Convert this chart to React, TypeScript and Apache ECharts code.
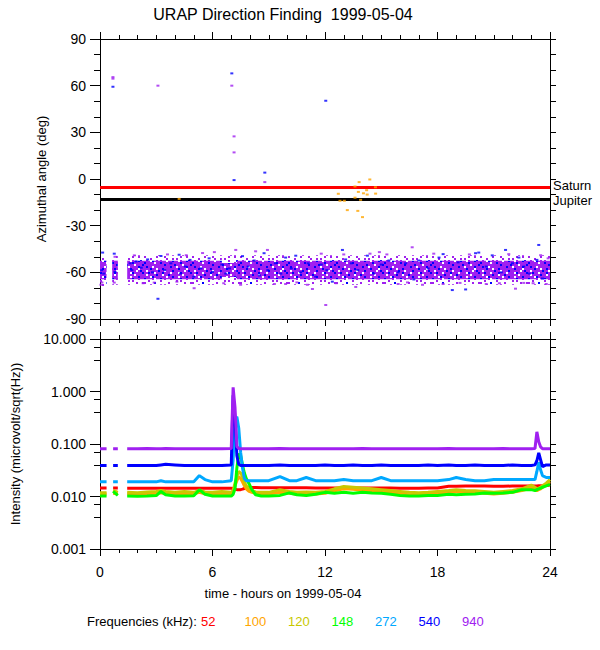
import React, { useEffect, useRef } from "react";
import * as echarts from "echarts";

// ---------- Bottom panel: intensity per frequency vs. hour ----------
const hours = [
  0, 0.35, 0.5, 0.7, 0.95, 1.2, 1.45, 2, 2.5, 3,
  3.25, 3.5, 4, 4.5, 5, 5.3, 5.6, 6, 6.5, 7.0,
  7.1, 7.2, 7.3, 7.4, 7.5, 7.6, 7.7, 7.8, 7.95, 8.1,
  8.3, 8.6, 9, 9.6, 10.1, 10.5, 11, 11.5, 12, 12.5,
  13, 13.5, 14, 14.5, 15, 15.5, 16, 16.5, 17, 17.5,
  18, 18.6, 19, 19.5, 20, 20.5, 21, 21.5, 22, 22.5,
  23, 23.2, 23.3, 23.4, 23.5, 23.6, 23.8, 24,
];

const int940 = [
  0.081, 0.081, null, 0.081, 0.081, null, 0.081, 0.081, 0.082, 0.081,
  0.081, 0.082, 0.081, 0.081, 0.081, 0.081, 0.081, 0.081, 0.081, 0.082,
  1.2, 0.5, 0.09, 0.082, 0.081, 0.081, 0.081, 0.081, 0.081, 0.081,
  0.081, 0.081, 0.081, 0.082, 0.081, 0.081, 0.081, 0.081, 0.081, 0.081,
  0.081, 0.081, 0.082, 0.081, 0.081, 0.081, 0.081, 0.081, 0.081, 0.081,
  0.081, 0.082, 0.081, 0.081, 0.081, 0.081, 0.081, 0.082, 0.081, 0.081,
  0.081, 0.082, 0.17, 0.11, 0.088, 0.081, 0.081, 0.081,
];

const int540 = [
  0.039, 0.039, null, 0.039, 0.039, null, 0.039, 0.039, 0.039, 0.039,
  0.040, 0.041, 0.040, 0.039, 0.039, 0.039, 0.039, 0.039, 0.039, 0.040,
  0.85, 0.3, 0.06, 0.041, 0.039, 0.039, 0.039, 0.039, 0.039, 0.039,
  0.039, 0.039, 0.039, 0.040, 0.039, 0.039, 0.039, 0.039, 0.040, 0.039,
  0.039, 0.040, 0.039, 0.039, 0.040, 0.039, 0.039, 0.039, 0.039, 0.040,
  0.039, 0.040, 0.039, 0.039, 0.040, 0.039, 0.039, 0.039, 0.040, 0.039,
  0.039, 0.040, 0.048, 0.068, 0.05, 0.037, 0.040, 0.040,
];

const int272 = [
  0.019, 0.019, null, 0.019, 0.019, null, 0.019, 0.019, 0.019, 0.019,
  0.020, 0.019, 0.019, 0.019, 0.019, 0.025, 0.021, 0.019, 0.019, 0.020,
  0.05, 0.30, 0.33, 0.20, 0.07, 0.035, 0.022, 0.020, 0.020, 0.020,
  0.020, 0.020, 0.020, 0.024, 0.020, 0.020, 0.023, 0.020, 0.020, 0.020,
  0.021, 0.020, 0.020, 0.020, 0.023, 0.020, 0.020, 0.020, 0.020, 0.020,
  0.020, 0.021, 0.023, 0.021, 0.020, 0.020, 0.021, 0.021, 0.021, 0.021,
  0.021, 0.021, 0.03, 0.045, 0.032, 0.025, 0.023, 0.023,
];

const int148 = [
  0.0102, 0.0102, null, 0.0125, 0.0105, null, 0.0102, 0.0101, 0.0102, 0.0104,
  0.0125, 0.0108, 0.0102, 0.0102, 0.0103, 0.0135, 0.011, 0.0102, 0.0102, 0.0102,
  0.011, 0.014, 0.035, 0.065, 0.06, 0.04, 0.028, 0.022, 0.0175, 0.0135,
  0.0108, 0.0102, 0.0102, 0.0105, 0.0117, 0.0108, 0.0105, 0.011, 0.012, 0.0115,
  0.012, 0.0115, 0.012, 0.0117, 0.0115, 0.011, 0.0105, 0.0102, 0.0102, 0.0105,
  0.0105, 0.011, 0.0108, 0.011, 0.0112, 0.0117, 0.0115, 0.0117, 0.012, 0.0135,
  0.0135, 0.013, 0.0135, 0.014, 0.0145, 0.015, 0.016, 0.017,
];

const int120 = [
  0.0118, 0.0118, null, 0.013, 0.012, null, 0.012, 0.0118, 0.0122, 0.0125,
  0.013, 0.0125, 0.012, 0.0125, 0.012, 0.013, 0.0122, 0.012, 0.0125, 0.012,
  0.013, 0.018, 0.024, 0.030, 0.028, 0.024, 0.019, 0.016, 0.014, 0.013,
  0.0122, 0.012, 0.012, 0.0135, 0.0125, 0.012, 0.0122, 0.012, 0.0125, 0.014,
  0.0155, 0.015, 0.0145, 0.014, 0.0135, 0.013, 0.0125, 0.012, 0.0118, 0.012,
  0.0125, 0.013, 0.0135, 0.013, 0.0128, 0.0125, 0.012, 0.0125, 0.013, 0.014,
  0.0165, 0.015, 0.014, 0.0145, 0.015, 0.016, 0.018, 0.021,
];

const int100 = [
  0.0112, 0.0112, null, 0.0115, 0.0112, null, 0.0112, 0.0111, 0.0113, 0.0115,
  0.0118, 0.0115, 0.0112, 0.0113, 0.0112, 0.012, 0.0113, 0.0112, 0.0113, 0.0112,
  0.012, 0.016, 0.020, 0.024, 0.022, 0.019, 0.016, 0.014, 0.0125, 0.012,
  0.0115, 0.0112, 0.0112, 0.012, 0.0115, 0.0112, 0.0113, 0.0112, 0.0115, 0.0128,
  0.014, 0.0138, 0.0132, 0.0128, 0.0125, 0.012, 0.0112, 0.0108, 0.0108, 0.011,
  0.0115, 0.012, 0.0125, 0.012, 0.0118, 0.0115, 0.0112, 0.0115, 0.012, 0.013,
  0.0145, 0.0135, 0.013, 0.0135, 0.014, 0.015, 0.017, 0.019,
];

const int52 = [
  0.0145, 0.0145, null, 0.0145, 0.0145, null, 0.0143, 0.0143, 0.0143, 0.0143,
  0.0143, 0.0143, 0.0143, 0.0143, 0.0143, 0.0143, 0.0143, 0.0143, 0.0143, 0.0143,
  0.0142, 0.0138, 0.0135, 0.0135, 0.0135, 0.0138, 0.0142, 0.0146, 0.0148, 0.0148,
  0.0148, 0.0147, 0.0146, 0.0146, 0.0146, 0.0146, 0.0146, 0.0145, 0.0145, 0.0145,
  0.0145, 0.0145, 0.0145, 0.0145, 0.0145, 0.0145, 0.0144, 0.0144, 0.0144, 0.0145,
  0.0145, 0.0157, 0.0157, 0.0158, 0.0158, 0.0158, 0.0157, 0.0157, 0.0158, 0.0158,
  0.0158, 0.0158, 0.0158, 0.016, 0.016, 0.016, 0.0162, 0.0165,
];

const freqLabels = ["52", "100", "120", "148", "272", "540", "940"];
const freqColors = ["#ff0000", "#ffa500", "#c8c800", "#00ff00", "#00a8ff", "#0000ff", "#a020f0"];
const intensities = [int52, int100, int120, int148, int272, int540, int940];

// ---------- Top panel: direction finding ----------
// dense 940/540 kHz band: [start h, end h, upper deg, lower deg]
const coreStart = [0, 0.65, 1.45, 6.5, 7.3];
const coreEnd = [0.35, 0.95, 6.5, 7.3, 24];
const coreTop = [-52.5, -52.5, -52.5, -54, -52.5];
const coreBottom = [-64.5, -64.5, -64.5, -63, -64.5];
const haloTop = [-49, -49, -49, -49, -49];
const haloBottom = [-69, -68, -68, -68, -68];

const df100: number[][] = [
  [4.22, -12.8], [12.71, -9.5], [12.8, -14], [13.03, -14], [13.19, -20], [13.6, -12],
  [13.6, -4.8], [13.78, -8.3], [13.75, -20.5], [13.82, -2], [13.9, -13.4], [14.0, -24.5],
  [14.05, -9.2], [14.22, -7.2], [14.25, -10], [14.39, -0.3], [14.69, -5.3], [14.7, -9.4],
];

const df940: number[][] = [
  [0.69, 64.5], [0.69, 65.5], [3.09, 60], [7.03, 60], [7.15, 27.4], [7.15, 17.1], [8.79, -2], [12.04, -81],
  [0.05, -68], [0.1, -66.5], [0.76, -66.6], [0.8, -50], [1.83, -49.1], [2.3, -67], [2.89, -66.6],
  [3.6, -48.5], [4.1, -66], [4.6, -49], [5.02, -70.2], [5.47, -47.6], [6.1, -47], [6.6, -67],
  [7.24, -45.6], [7.5, -68], [8.3, -46.5], [8.93, -45.6], [9.3, -67.5], [9.9, -67.5], [10.5, -66.5],
  [11.06, -68], [11.33, -70.7], [11.8, -48], [12.6, -67], [13.0, -48.5], [13.64, -69.4], [14.4, -48],
  [14.9, -47], [15.3, -48.5], [15.9, -67.5], [16.4, -66.5], [16.65, -43.9], [17.2, -68], [17.8, -48],
  [18.3, -67.5], [19.2, -66.8], [19.7, -48.5], [20.6, -67.5], [21.3, -67], [21.8, -48.3], [22.16, -70.5],
  [22.6, -66.8], [23.1, -67], [23.5, -49], [23.8, -67.5], [23.9, -51],
];

const df540: number[][] = [
  [0.69, 59.3], [7.03, 67.9], [7.15, -0.7], [8.79, 4.1], [12.04, 50.3], [3.09, -77], [23.4, -42.4],
  [0.14, -47.3], [0.09, -58.6], [0.2, -60.8], [0.76, -48], [0.8, -59.7], [1.61, -54.2], [1.7, -58.6],
  [1.92, -53], [2.2, -57], [2.54, -51.7], [2.8, -60], [3.25, -49.5], [3.45, -58.6], [3.78, -54.2],
  [4.22, -48.7], [4.3, -60.8], [4.55, -56.3], [4.8, -52], [5.0, -62.8], [5.38, -57.5], [5.82, -51],
  [6.0, -59.7], [6.5, -55], [6.71, -60.8], [6.9, -57.5], [7.6, -49.6], [7.9, -56.3], [8.22, -52.4],
  [8.5, -62], [8.75, -47.7], [8.95, -58.6], [9.35, -54.2], [9.64, -60.8], [9.9, -50.5], [10.2, -57.5],
  [10.44, -49.3], [10.7, -60], [11.1, -54.2], [11.5, -62.8], [11.8, -55], [12.1, -58.6], [12.39, -66],
  [12.93, -45.6], [13.1, -51.7], [13.4, -54.2], [13.75, -58.6], [14.26, -49.3], [14.6, -60.8], [15.0, -55],
  [15.41, -52.4], [15.9, -60], [16.3, -54.2], [16.74, -64.6], [17.0, -52.4], [17.5, -57.5], [18.08, -50.5],
  [18.3, -48.3], [18.79, -71.4], [19.1, -53.6], [19.5, -71], [20.03, -47.7], [20.2, -47.3], [20.6, -56.3],
  [20.92, -49.1], [21.4, -60], [21.63, -45.6], [22.0, -54.2], [22.34, -50.5], [22.6, -56.3], [22.9, -60.8],
  [23.3, -52], [23.6, -64],
];

const planetNames = ["Saturn", "Jupiter"];
const planetAngles = [-5, -13];
const planetColors = ["#ff0000", "#000000"];

const hourTicks = { min: 0, max: 24, interval: 6 };
const angleTicks = { min: -90, max: 90, interval: 30 };
const intensityRange = { min: 0.001, max: 10 };

// speckle textures for the dense band (styling only): P purple, B blue, . empty
const coreTexture = [
  "PPBPP.PPPBPPP.PPP.BPPPPB",
  "P.PPPPBPP.PPBPPPPPP.PPPP",
  "PPP.BPPPPPP.PPBPP.PPPBPP",
  "BPPPP.PPBPPPP.PPPPBPP.PP",
  "PP.PPPPP.PBPPPPBPPP.PPPB",
  "PBPP.PPPPPPP.BPP.PPPPBPP",
  "PPPBPP.PPBPPPPPP.BPPP.PP",
  "P.PPPPPBPP.PPPBPPPPP.PBP",
];
const haloTexture = [
  "P.....P...P.......P..P..",
  "...P.......P..P.P.......",
  ".P....P.P.........P...B.",
  "....P.....P..P.......P..",
  "..P.....P.......P.P.....",
  "P....B......P.......P..P",
  "...P....P.P.....P.......",
  ".......P......P....P.P..",
];

const FONT = "'Liberation Sans', Arial, Helvetica, sans-serif";
const BLACK = "#000";

function makePattern(rows: string[], cw: number, ch: number, palette: Record<string, string>) {
  const c = document.createElement("canvas");
  c.width = rows[0].length * cw;
  c.height = rows.length * ch;
  const ctx = c.getContext("2d") as CanvasRenderingContext2D;
  rows.forEach((r, y) => {
    for (let x = 0; x < r.length; x++) {
      const col = palette[r[x]];
      if (col) {
        ctx.fillStyle = col;
        ctx.fillRect(x * cw, y * ch, cw, ch);
      }
    }
  });
  return { image: c, repeat: "repeat" };
}

function xAxisDef(gridIndex: number, position: string, showLabels: boolean) {
  return {
    type: "value",
    gridIndex,
    position,
    ...hourTicks,
    axisLine: { onZero: false, lineStyle: { color: BLACK, width: 1 } },
    axisTick: { length: 7, lineStyle: { color: BLACK } },
    minorTick: { show: true, splitNumber: 6, length: 4, lineStyle: { color: BLACK } },
    splitLine: { show: false },
    minorSplitLine: { show: false },
    axisLabel: { show: showLabels, color: BLACK, fontFamily: FONT, fontSize: 14, margin: 16 },
  };
}

function bandRender(fill: any) {
  return (params: any, api: any) => {
    const a = api.coord([api.value(0), api.value(2)]);
    const b = api.coord([api.value(1), api.value(3)]);
    return {
      type: "rect",
      shape: { x: a[0], y: a[1], width: b[0] - a[0], height: b[1] - a[1] },
      style: { fill },
    };
  };
}

export default function App() {
  const ref = useRef<HTMLDivElement>(null);
  useEffect(() => {
    const chart = echarts.init(ref.current as HTMLDivElement, null, { renderer: "svg" });
    const palette = { P: freqColors[6], B: freqColors[5] };
    const corePattern = makePattern(coreTexture, 2, 2, palette);
    const haloPattern = makePattern(haloTexture, 2, 2, palette);

    const lineSeries = intensities.map((vals, k) => ({
      name: freqLabels[k],
      type: "line",
      xAxisIndex: 2,
      yAxisIndex: 2,
      showSymbol: false,
      connectNulls: false,
      lineStyle: { color: freqColors[k], width: 3 },
      itemStyle: { color: freqColors[k] },
      z: 3 + k,
      data: hours.map((h, i) => [h, vals[i] === null ? "-" : vals[i]]),
    }));

    const option: any = {
      animation: false,
      backgroundColor: "#fff",
      grid: [
        { left: 100, top: 39, width: 450, height: 280 },
        { left: 100, top: 339, width: 450, height: 210 },
      ],
      xAxis: [
        xAxisDef(0, "bottom", false),
        xAxisDef(0, "top", false),
        xAxisDef(1, "bottom", true),
        xAxisDef(1, "top", false),
      ],
      yAxis: [
        {
          type: "value",
          gridIndex: 0,
          position: "left",
          ...angleTicks,
          name: "Azimuthal angle (deg)",
          nameLocation: "middle",
          nameGap: 52,
          nameTextStyle: { color: BLACK, fontFamily: FONT, fontSize: 13 },
          axisLine: { onZero: false, lineStyle: { color: BLACK } },
          axisTick: { length: 10, lineStyle: { color: BLACK } },
          minorTick: { show: true, splitNumber: 3, length: 6, lineStyle: { color: BLACK } },
          splitLine: { show: false },
          axisLabel: { color: BLACK, fontFamily: FONT, fontSize: 14, margin: 14 },
        },
        {
          type: "value",
          gridIndex: 0,
          position: "right",
          ...angleTicks,
          axisLine: { onZero: false, lineStyle: { color: BLACK } },
          axisTick: { length: 6, lineStyle: { color: BLACK } },
          minorTick: { show: true, splitNumber: 3, length: 6, lineStyle: { color: BLACK } },
          splitLine: { show: false },
          axisLabel: { show: false },
        },
        {
          type: "log",
          logBase: 10,
          gridIndex: 1,
          position: "left",
          ...intensityRange,
          name: "Intensity (microvolt/sqrt(Hz))",
          nameLocation: "middle",
          nameGap: 78,
          nameTextStyle: { color: BLACK, fontFamily: FONT, fontSize: 13 },
          axisLine: { onZero: false, lineStyle: { color: BLACK } },
          axisTick: { length: 10, lineStyle: { color: BLACK } },
          minorTick: { show: true, splitNumber: 3, length: 6, lineStyle: { color: BLACK } },
          splitLine: { show: false },
          axisLabel: {
            color: BLACK,
            fontFamily: FONT,
            fontSize: 14,
            margin: 14,
            formatter: (v: number) => Number(v).toFixed(3),
          },
        },
        {
          type: "log",
          logBase: 10,
          gridIndex: 1,
          position: "right",
          ...intensityRange,
          axisLine: { onZero: false, lineStyle: { color: BLACK } },
          axisTick: { length: 6, lineStyle: { color: BLACK } },
          minorTick: { show: true, splitNumber: 3, length: 6, lineStyle: { color: BLACK } },
          splitLine: { show: false },
          axisLabel: { show: false },
        },
      ],
      series: [
        {
          type: "custom",
          name: "halo",
          xAxisIndex: 0,
          yAxisIndex: 0,
          silent: true,
          z: 1,
          encode: { x: [0, 1], y: [2, 3] },
          renderItem: bandRender(haloPattern),
          data: coreStart.map((s, i) => [s, coreEnd[i], haloTop[i], haloBottom[i]]),
        },
        {
          type: "custom",
          name: "core",
          xAxisIndex: 0,
          yAxisIndex: 0,
          silent: true,
          z: 2,
          encode: { x: [0, 1], y: [2, 3] },
          renderItem: bandRender(corePattern),
          data: coreStart.map((s, i) => [s, coreEnd[i], coreTop[i], coreBottom[i]]),
        },
        {
          type: "scatter",
          name: "planets",
          xAxisIndex: 0,
          yAxisIndex: 0,
          data: [],
          z: 3,
          markLine: {
            silent: true,
            symbol: "none",
            animation: false,
            data: planetNames.map((n, i) => ({
              name: n,
              yAxis: planetAngles[i],
              lineStyle: { color: planetColors[i], width: 3, type: "solid" },
              label: {
                show: true,
                position: "end",
                distance: 3,
                formatter: n,
                color: BLACK,
                fontFamily: FONT,
                fontSize: 13,
                lineHeight: 12,
                offset: [0, i === 0 ? -1 : 1],
              },
            })),
          },
        },
        {
          type: "scatter",
          name: "940 df",
          xAxisIndex: 0,
          yAxisIndex: 0,
          symbol: "rect",
          symbolSize: [3, 2],
          itemStyle: { color: freqColors[6] },
          z: 4,
          data: df940,
        },
        {
          type: "scatter",
          name: "540 df",
          xAxisIndex: 0,
          yAxisIndex: 0,
          symbol: "rect",
          symbolSize: [3, 2],
          itemStyle: { color: freqColors[5] },
          z: 5,
          data: df540,
        },
        {
          type: "scatter",
          name: "100 df",
          xAxisIndex: 0,
          yAxisIndex: 0,
          symbol: "rect",
          symbolSize: [3, 2],
          itemStyle: { color: freqColors[1] },
          z: 6,
          data: df100,
        },
        ...lineSeries,
      ],
      graphic: [
        {
          type: "text",
          x: 283,
          y: 14,
          style: {
            text: "URAP Direction Finding  1999-05-04",
            fill: BLACK,
            font: `16px ${FONT}`,
            textAlign: "center",
            textVerticalAlign: "middle",
          },
        },
        {
          type: "text",
          x: 283,
          y: 593,
          style: {
            text: "time - hours on 1999-05-04",
            fill: BLACK,
            font: `13px ${FONT}`,
            textAlign: "center",
            textVerticalAlign: "middle",
          },
        },
        {
          type: "text",
          x: 87,
          y: 621,
          style: {
            text: "Frequencies (kHz):",
            fill: BLACK,
            font: `13px ${FONT}`,
            textAlign: "left",
            textVerticalAlign: "middle",
          },
        },
        ...freqLabels.map((f, i) => ({
          type: "text",
          x: 201 + i * 43.5,
          y: 621,
          style: {
            text: f,
            fill: freqColors[i],
            font: `13px ${FONT}`,
            textAlign: "left",
            textVerticalAlign: "middle",
          },
        })),
      ],
    };

    chart.setOption(option);
    return () => chart.dispose();
  }, []);

  return (
    <div
      ref={ref}
      style={{ position: "fixed", left: 0, top: 0, width: 600, height: 650, background: "#fff" }}
    />
  );
}
